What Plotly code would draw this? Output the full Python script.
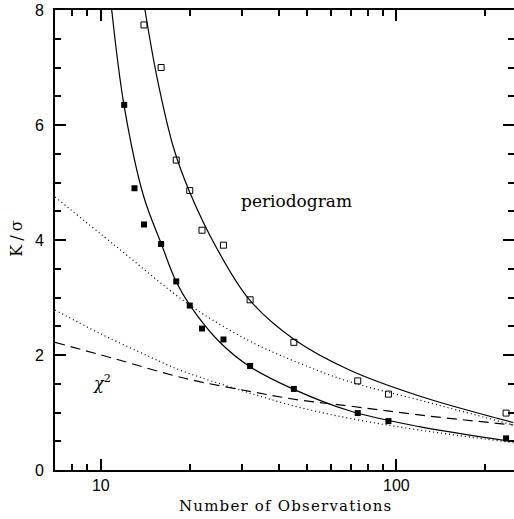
import plotly.graph_objects as go

# ---- data ----
# measured points (filled squares: chi^2 test; open squares: periodogram)
n_filled = [12, 13, 14, 16, 18, 20, 22, 26, 32, 45, 74, 94, 235]
k_filled = [6.35, 4.90, 4.27, 3.93, 3.28, 2.86, 2.46, 2.27, 1.81, 1.41, 0.99, 0.85, 0.55]

n_open = [14, 16, 18, 20, 22, 26, 32, 45, 74, 94, 235]
k_open = [7.74, 7.00, 5.39, 4.86, 4.17, 3.91, 2.96, 2.22, 1.55, 1.32, 0.99]

# solid curve through filled points
n_solid1 = [10.89, 11.99, 13.92, 16.04, 17.96, 20.03, 25.23, 31.95, 44.98, 69.37, 119.6, 248.5]
k_solid1 = [8.0, 6.336, 4.783, 3.925, 3.282, 2.864, 2.226, 1.797, 1.403, 1.030, 0.753, 0.492]

# solid curve through open points
n_solid2 = [14.11, 15.46, 17.64, 19.98, 24.65, 31.87, 44.88, 69.37, 119.6, 248.5]
k_solid2 = [8.0, 6.852, 5.600, 4.835, 3.861, 2.957, 2.278, 1.739, 1.287, 0.826]

# upper dotted curve
n_dot1 = [7.0, 11.30, 19.98, 31.87, 47.0, 69.37, 119.6, 248.5]
k_dot1 = [4.748, 3.883, 2.870, 2.243, 1.857, 1.536, 1.217, 0.783]

# lower dotted curve
n_dot2 = [7.0, 9.92, 14.64, 18.49, 31.87, 47.0, 69.37, 119.6, 248.5]
k_dot2 = [2.783, 2.376, 1.970, 1.739, 1.339, 1.090, 0.899, 0.696, 0.475]

# dashed (chi^2) curve
n_dash = [7.0, 11.0, 19.22, 31.87, 47.0, 69.37, 119.6, 248.5]
k_dash = [2.221, 1.943, 1.595, 1.368, 1.217, 1.113, 0.957, 0.783]

x_major = [10, 100]
x_major_text = ["10", "100"]
x_minor = [8, 9, 20, 30, 40, 50, 60, 70, 80, 90, 200]

fig = go.Figure()

line_style = dict(color="black", width=1.2, shape="spline", smoothing=1.0)

fig.add_trace(go.Scatter(x=n_solid1, y=k_solid1, mode="lines", line=line_style, hoverinfo="skip"))
fig.add_trace(go.Scatter(x=n_solid2, y=k_solid2, mode="lines", line=line_style, hoverinfo="skip"))
fig.add_trace(go.Scatter(x=n_dot1, y=k_dot1, mode="lines",
                         line=dict(color="black", width=1.2, dash="1px,3px", shape="spline"), hoverinfo="skip"))
fig.add_trace(go.Scatter(x=n_dot2, y=k_dot2, mode="lines",
                         line=dict(color="black", width=1.2, dash="1px,3px", shape="spline"), hoverinfo="skip"))
fig.add_trace(go.Scatter(x=n_dash, y=k_dash, mode="lines", yaxis="y2",
                         line=dict(color="black", width=1.2, dash="10px,6px", shape="spline"), hoverinfo="skip"))

fig.add_trace(go.Scatter(x=n_filled, y=k_filled, mode="markers",
                         marker=dict(symbol="square", size=6, color="black",
                                     line=dict(width=0))))
fig.add_trace(go.Scatter(x=n_open, y=k_open, mode="markers",
                         marker=dict(symbol="square-open", size=6, color="black",
                                     line=dict(width=1))))

ann_font = dict(family="DejaVu Serif", color="black")
fig.add_annotation(text="periodogram", x=0.527, y=0.585, xref="paper", yref="paper",
                   xanchor="center", yanchor="middle",
                   showarrow=False, font=dict(ann_font, size=17))
fig.add_annotation(text="<i>χ</i><sup>2</sup>", x=0.102, y=0.19, xref="paper", yref="paper",
                   xanchor="center", yanchor="middle",
                   showarrow=False, font=dict(ann_font, size=16))
fig.add_annotation(text='<span style="letter-spacing:1.2px">Number of Observations</span>',
                   x=0.503, y=-0.078, xref="paper", yref="paper",
                   xanchor="center", yanchor="middle",
                   showarrow=False, font=dict(ann_font, size=15))
fig.add_annotation(text='<span style="letter-spacing:4px">K/σ</span>',
                   x=-0.083, y=0.507, xref="paper", yref="paper", textangle=-90,
                   xanchor="center", yanchor="middle",
                   showarrow=False, font=dict(ann_font, size=16))

fig.update_layout(
    width=514, height=519,
    margin=dict(l=55, r=0, t=10, b=49),
    paper_bgcolor="white", plot_bgcolor="white",
    showlegend=False,
    xaxis=dict(
        type="log", range=[0.8451, 2.3979],
        tickmode="array", tickvals=x_major, ticktext=x_major_text,
        ticks="inside", ticklen=11, tickwidth=1.5, tickcolor="black",
        minor=dict(tickmode="array", tickvals=x_minor, ticks="inside", ticklen=6,
                   tickwidth=1.5, tickcolor="black", showgrid=False),
        showline=True, linecolor="black", linewidth=2, mirror="ticks",
        showgrid=False, zeroline=False,
        tickfont=dict(family="Liberation Sans", size=16, color="black"),
        ticklabelstandoff=0,
    ),
    yaxis=dict(
        range=[0, 8], tickmode="array", tickvals=[0, 2, 4, 6, 8],
        ticks="inside", ticklen=11, tickwidth=1.5, tickcolor="black",
        minor=dict(dtick=0.5, ticks="inside", ticklen=6, tickwidth=1.5,
                   tickcolor="black", showgrid=False),
        showline=True, linecolor="black", linewidth=2, mirror=False,
        showgrid=False, zeroline=False,
        tickfont=dict(family="Liberation Sans", size=16, color="black"),
        ticklabelstandoff=6,
    ),
    yaxis2=dict(
        overlaying="y", side="right", anchor="x", range=[0, 8],
        tickmode="array", tickvals=[0, 2, 4, 6, 8],
        ticks="inside", ticklen=11, tickwidth=1.5, tickcolor="black",
        minor=dict(dtick=0.5, ticks="inside", ticklen=6, tickwidth=1.5,
                   tickcolor="black", showgrid=False),
        showline=False, showgrid=False, zeroline=False, showticklabels=False,
    ),
)

fig.write_html("out.html")
